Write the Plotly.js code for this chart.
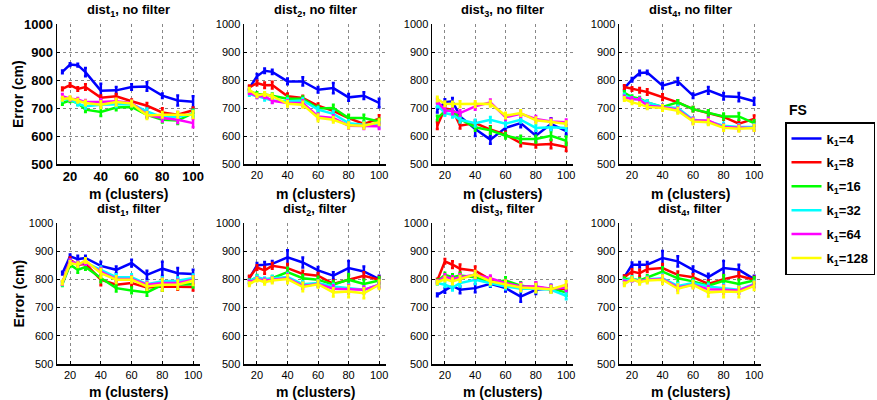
<!DOCTYPE html>
<html><head><meta charset="utf-8">
<script src="https://cdn.plot.ly/plotly-3.0.1.min.js"></script>
<style>html,body{margin:0;padding:0;background:#fff}#chart{width:877px;height:400px}</style>
</head><body><div id="chart"></div>
<script>
// ---------- DATA ----------
const mClusters = [15, 20, 25, 30, 40, 50, 60, 70, 80, 90, 100];
const seriesNames = ["k<sub>1</sub>=4", "k<sub>1</sub>=8", "k<sub>1</sub>=16", "k<sub>1</sub>=32", "k<sub>1</sub>=64", "k<sub>1</sub>=128"];
const seriesColors = ["#0000ff", "#ff0000", "#00ff00", "#00ffff", "#ff00ff", "#ffff00"];
const panelTitles = ["dist<sub>1</sub>, no filter", "dist<sub>2</sub>, no filter", "dist<sub>3</sub>, no filter", "dist<sub>4</sub>, no filter",
                     "dist<sub>1</sub>, filter", "dist<sub>2</sub>, filter", "dist<sub>3</sub>, filter", "dist<sub>4</sub>, filter"];
const yTicks = [500, 600, 700, 800, 900, 1000];
const xTicks = [20, 40, 60, 80, 100];

// rows: k1=4, 8, 16, 32, 64, 128
const dist1_noFilter = [
  [829, 855, 853, 828, 762, 763, 775, 777, 744, 727, 722],
  [768, 782, 768, 775, 737, 742, 724, 708, 684, 676, 692],
  [718, 727, 718, 694, 686, 702, 704, 676, 658, 655, 682],
  [730, 732, 715, 706, 712, 712, 714, 688, 667, 668, 680],
  [742, 733, 730, 721, 721, 724, 718, 676, 664, 658, 646],
  [733, 735, 726, 718, 712, 721, 716, 673, 676, 676, 676]];
const dist1_noFilter_err = [
  [5, 5, 5, 15, 25, 12, 10, 15, 8, 18, 20],
  [5, 6, 6, 10, 8, 8, 6, 10, 15, 10, 10],
  [6, 6, 6, 8, 15, 10, 8, 10, 10, 12, 12],
  [6, 6, 6, 8, 10, 8, 8, 10, 10, 10, 10],
  [8, 6, 6, 8, 10, 8, 8, 10, 12, 12, 15],
  [6, 6, 6, 8, 12, 12, 10, 12, 10, 10, 12]];

const dist2_noFilter = [
  [771, 813, 833, 829, 795, 795, 765, 771, 738, 744, 718],
  [774, 789, 781, 782, 742, 736, 708, 690, 664, 643, 662],
  [760, 750, 748, 744, 733, 733, 698, 700, 664, 664, 652],
  [750, 742, 733, 727, 724, 727, 694, 679, 646, 640, 640],
  [756, 742, 742, 726, 718, 718, 670, 664, 637, 635, 635],
  [765, 745, 750, 742, 715, 712, 665, 658, 638, 637, 649]];
const dist2_noFilter_err = [
  [6, 8, 8, 8, 10, 15, 10, 18, 12, 12, 15],
  [6, 8, 10, 12, 10, 8, 8, 10, 10, 8, 12],
  [6, 6, 6, 8, 10, 8, 10, 12, 12, 12, 10],
  [6, 6, 6, 8, 10, 8, 10, 10, 10, 10, 10],
  [6, 6, 6, 8, 10, 10, 10, 10, 10, 10, 10],
  [6, 6, 6, 8, 10, 10, 12, 10, 10, 10, 10]];

const dist3_noFilter = [
  [694, 721, 724, 670, 625, 587, 629, 646, 601, 643, 617],
  [637, 698, 694, 637, 646, 623, 605, 575, 569, 571, 561],
  [664, 688, 694, 661, 631, 620, 601, 589, 589, 601, 583],
  [711, 682, 676, 658, 646, 658, 644, 658, 629, 631, 629],
  [724, 692, 688, 682, 706, 720, 667, 679, 661, 652, 649],
  [732, 715, 714, 714, 714, 715, 673, 682, 656, 649, 644]];
const dist3_noFilter_err = [
  [10, 10, 12, 12, 25, 15, 12, 15, 15, 20, 12],
  [12, 10, 10, 10, 10, 12, 10, 12, 10, 15, 15],
  [8, 10, 10, 10, 12, 12, 10, 12, 12, 15, 15],
  [8, 10, 10, 10, 12, 10, 10, 10, 10, 10, 10],
  [8, 10, 10, 10, 12, 10, 10, 10, 10, 10, 10],
  [8, 8, 8, 10, 10, 10, 10, 10, 10, 8, 8]];

const dist4_noFilter = [
  [771, 801, 825, 827, 780, 795, 744, 763, 742, 739, 724],
  [775, 768, 763, 757, 739, 720, 696, 682, 668, 644, 661],
  [754, 739, 733, 720, 704, 720, 696, 682, 670, 670, 646],
  [745, 733, 730, 720, 704, 700, 658, 652, 637, 632, 632],
  [738, 732, 730, 708, 704, 694, 655, 655, 631, 629, 629],
  [732, 720, 714, 704, 700, 690, 652, 649, 629, 626, 629]];
const dist4_noFilter_err = [
  [8, 6, 8, 6, 10, 12, 8, 12, 12, 15, 12],
  [6, 6, 8, 10, 10, 8, 8, 8, 10, 10, 12],
  [6, 6, 6, 8, 8, 8, 8, 10, 10, 12, 10],
  [6, 6, 6, 8, 8, 8, 8, 10, 10, 10, 10],
  [6, 6, 6, 8, 8, 8, 10, 10, 10, 10, 10],
  [6, 6, 6, 8, 10, 10, 10, 10, 10, 10, 10]];

const dist1_filter = [
  [822, 882, 872, 876, 848, 834, 858, 816, 838, 822, 819],
  [787, 870, 852, 855, 799, 781, 787, 771, 775, 775, 773],
  [783, 852, 834, 844, 805, 769, 761, 754, 781, 783, 783],
  [785, 864, 855, 860, 834, 808, 808, 783, 793, 795, 805],
  [787, 864, 855, 860, 828, 801, 801, 781, 787, 787, 799],
  [789, 858, 852, 867, 822, 799, 799, 775, 781, 781, 795]];
const dist1_filter_err = [
  [5, 6, 12, 8, 15, 12, 12, 15, 25, 18, 15],
  [6, 8, 10, 8, 20, 12, 10, 10, 15, 12, 12],
  [6, 8, 10, 10, 15, 12, 10, 12, 20, 15, 12],
  [6, 6, 8, 8, 12, 10, 10, 10, 15, 12, 12],
  [6, 6, 8, 8, 12, 10, 10, 10, 15, 12, 12],
  [6, 6, 8, 8, 15, 12, 10, 12, 20, 15, 15]];

const dist2_filter = [
  [804, 850, 852, 855, 878, 860, 832, 813, 840, 828, 801],
  [807, 842, 832, 848, 840, 819, 813, 784, 799, 813, 799],
  [793, 808, 796, 804, 826, 804, 799, 781, 799, 784, 796],
  [793, 808, 801, 804, 808, 783, 787, 775, 769, 763, 781],
  [789, 801, 796, 799, 804, 777, 784, 767, 765, 763, 781],
  [783, 799, 790, 796, 801, 773, 783, 754, 757, 751, 781]];
const dist2_filter_err = [
  [6, 8, 10, 10, 25, 18, 12, 12, 25, 18, 12],
  [6, 8, 12, 10, 15, 12, 10, 12, 15, 12, 10],
  [6, 8, 8, 8, 15, 12, 10, 12, 20, 15, 12],
  [6, 6, 6, 8, 15, 10, 10, 10, 15, 12, 10],
  [6, 6, 6, 8, 15, 10, 10, 12, 15, 12, 10],
  [6, 6, 8, 10, 15, 15, 12, 15, 20, 18, 15]];

const dist3_filter = [
  [745, 761, 777, 763, 769, 784, 769, 739, 763, 769, 769],
  [796, 864, 852, 838, 831, 799, 787, 775, 773, 765, 767],
  [793, 816, 808, 814, 808, 789, 796, 778, 769, 767, 754],
  [787, 781, 771, 787, 799, 787, 775, 767, 767, 763, 742],
  [791, 810, 801, 808, 816, 804, 787, 775, 775, 767, 771],
  [789, 801, 793, 802, 818, 793, 783, 771, 769, 765, 781]];
const dist3_filter_err = [
  [5, 8, 12, 12, 15, 10, 12, 18, 15, 12, 10],
  [6, 8, 12, 15, 15, 10, 10, 12, 15, 10, 12],
  [6, 8, 10, 10, 12, 10, 12, 12, 12, 10, 12],
  [6, 8, 10, 12, 15, 10, 10, 10, 12, 10, 12],
  [6, 8, 10, 10, 12, 10, 10, 12, 15, 12, 12],
  [6, 8, 10, 10, 12, 10, 12, 12, 15, 12, 12]];

const dist4_filter = [
  [808, 852, 852, 852, 876, 864, 834, 808, 840, 834, 801],
  [808, 828, 822, 836, 840, 816, 808, 784, 801, 813, 799],
  [801, 802, 796, 807, 828, 804, 793, 778, 795, 784, 796],
  [793, 804, 793, 801, 804, 777, 787, 775, 769, 763, 784],
  [789, 799, 793, 799, 801, 771, 781, 765, 763, 761, 781],
  [783, 801, 790, 796, 799, 767, 781, 754, 757, 755, 777]];
const dist4_filter_err = [
  [6, 8, 10, 10, 25, 18, 12, 12, 25, 18, 12],
  [6, 8, 12, 10, 15, 12, 10, 12, 15, 12, 10],
  [6, 8, 8, 8, 15, 12, 10, 12, 20, 15, 12],
  [6, 6, 6, 8, 15, 10, 10, 10, 15, 12, 10],
  [6, 6, 6, 8, 15, 10, 10, 12, 15, 12, 10],
  [6, 6, 8, 10, 15, 15, 12, 15, 20, 18, 15]];

const panelValues = [dist1_noFilter, dist2_noFilter, dist3_noFilter, dist4_noFilter,
                     dist1_filter, dist2_filter, dist3_filter, dist4_filter];
const panelErrors = [dist1_noFilter_err, dist2_noFilter_err, dist3_noFilter_err, dist4_noFilter_err,
                     dist1_filter_err, dist2_filter_err, dist3_filter_err, dist4_filter_err];

// ---------- LAYOUT ----------
const W = 877, H = 400;
const colPx = [[57, 200], [244, 386], [432, 573], [619, 761]];
const rowPx = [[24, 164], [223, 364]];
const FONT = "Liberation Sans, Arial, Helvetica, sans-serif";

const traces = [];
const layout = {
  width: W, height: H,
  margin: {l: 0, r: 0, t: 0, b: 0},
  paper_bgcolor: "#fff", plot_bgcolor: "#fff",
  font: {family: FONT, color: "#000", size: 11},
  showlegend: true,
  legend: {
    x: 785 / W, y: 1 - 122 / H, xanchor: "left", yanchor: "top",
    bordercolor: "#000", borderwidth: 1.5, bgcolor: "#fff",
    font: {family: FONT, size: 13, weight: "bold", color: "#000"},
    tracegroupgap: 4, itemwidth: 30
  },
  annotations: []
};

for (let p = 0; p < 8; p++) {
  const r = Math.floor(p / 4), c = p % 4;
  const sfx = p === 0 ? "" : String(p + 1);
  const xd = [colPx[c][0] / W, colPx[c][1] / W];
  const yd = [1 - rowPx[r][1] / H, 1 - rowPx[r][0] / H];
  const bold = p === 0;
  const tf = bold ? {family: FONT, size: 13, weight: "bold", color: "#000"} : {family: FONT, size: 11, color: "#000"};
  layout["xaxis" + sfx] = {
    domain: xd, anchor: "y" + sfx, range: [11.5, 104.5],
    tickvals: xTicks, ticks: "inside", ticklen: 3, tickcolor: "#000",
    showline: true, linecolor: "#000", linewidth: 1.5,
    showgrid: true, gridcolor: "#888", griddash: "dot", gridwidth: 1,
    zeroline: false, tickfont: tf, fixedrange: true
  };
  layout["yaxis" + sfx] = {
    domain: yd, anchor: "x" + sfx, range: [500, 1000],
    tickvals: yTicks, ticks: "inside", ticklen: 3, tickcolor: "#000",
    showline: true, linecolor: "#000", linewidth: 1.5,
    showgrid: true, gridcolor: "#888", griddash: "dot", gridwidth: 1,
    zeroline: false, tickfont: tf, fixedrange: true
  };
  for (let s = 0; s < 6; s++) {
    traces.push({
      type: "scatter", mode: "lines",
      x: mClusters, y: panelValues[p][s],
      xaxis: "x" + sfx, yaxis: "y" + sfx,
      name: seriesNames[s], legendgroup: "g" + s,
      showlegend: p === 0,
      line: {color: seriesColors[s], width: 2.5},
      error_y: {type: "data", array: panelErrors[p][s], visible: true,
                color: seriesColors[s], thickness: 2.5, width: 1.5}
    });
  }
  const cx = (xd[0] + xd[1]) / 2;
  layout.annotations.push({
    text: "<b>" + panelTitles[p] + "</b>", xref: "paper", yref: "paper",
    x: cx, y: yd[1] + 3 / H, xanchor: "center", yanchor: "bottom",
    showarrow: false, font: {family: FONT, size: 13, color: "#000"}
  });
  layout.annotations.push({
    text: "<b>m (clusters)</b>", xref: "paper", yref: "paper",
    x: cx, y: 1 - (r === 0 ? 184 : 382) / H, xanchor: "center", yanchor: "top",
    showarrow: false, font: {family: FONT, size: 14, color: "#000"}
  });
  if (c === 0) {
    layout.annotations.push({
      text: "<b>Error (cm)</b>", xref: "paper", yref: "paper",
      x: 18 / W, y: (yd[0] + yd[1]) / 2, xanchor: "center", yanchor: "middle",
      textangle: -90, showarrow: false, font: {family: FONT, size: 14, color: "#000"}
    });
  }
}
layout.annotations.push({
  text: "<b>FS</b>", xref: "paper", yref: "paper",
  x: 787 / W, y: 1 - 110 / H, xanchor: "left", yanchor: "middle",
  showarrow: false, font: {family: FONT, size: 14, color: "#000"}
});

Plotly.newPlot("chart", traces, layout, {staticPlot: true, displayModeBar: false});
</script></body></html>
